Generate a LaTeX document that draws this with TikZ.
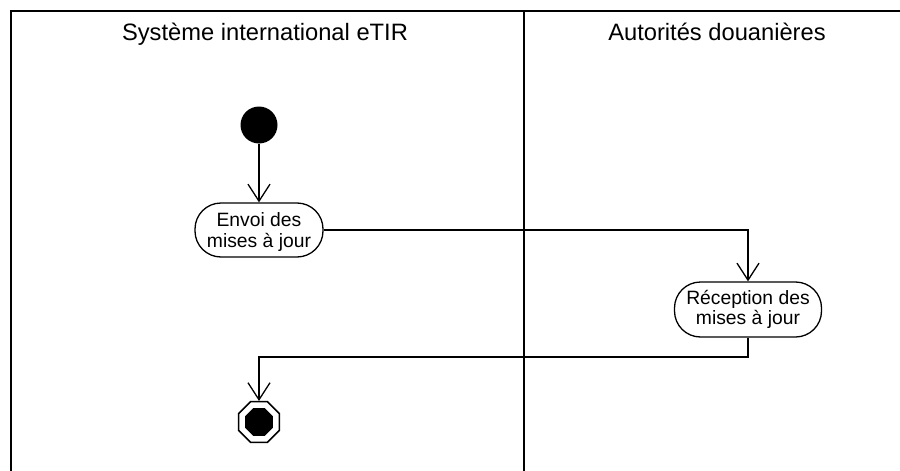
\documentclass[tikz,border=0pt]{standalone}
\usepackage{fontspec}
\setmainfont{Liberation Sans}
\usetikzlibrary{arrows.meta,shapes.geometric}
\begin{document}
\begin{tikzpicture}[x=1pt,y=-1pt,
  lane/.style={line width=2pt,line cap=rect},
  header/.style={anchor=base,inner sep=0pt,font=\fontsize{23.7}{28}\selectfont},
  activity/.style={draw,line width=1.3pt,rounded corners=26pt,align=center,
    inner sep=0pt,font=\fontsize{19.3}{20.5}\selectfont},
  flow/.style={line width=1.3pt,-{Straight Barb[length=17pt,width=22pt,line width=1.3pt]}},
  startnode/.style={circle,fill=black,minimum size=37pt,inner sep=0pt},
  endouter/.style={regular polygon,regular polygon sides=8,draw,line width=1.5pt,
    minimum size=44pt,inner sep=0pt},
  endinner/.style={regular polygon,regular polygon sides=8,fill=black,
    minimum size=30pt,inner sep=0pt}
]
\useasboundingbox (0,0) rectangle (900,471);
\fill[white] (0,0) rectangle (900,471);
\begin{scope}
\clip (0,0) rectangle (900,471);
\draw[lane] (905,11) -- (10.5,11) -- (10.5,480);
\draw[lane] (523.5,11) -- (523.5,480);
\end{scope}

\node[header] (h1) at (265,40) {Système international eTIR};
\node[header] (h2) at (717,40) {Autorités douanières};

\node[startnode] (start) at (259,125) {};
\node[activity,minimum width=128pt,minimum height=54pt] (envoi) at (259,230)
  {\raisebox{-3pt}[\height][\depth]{\begin{tabular}{@{}c@{}}Envoi des\\mises à jour\end{tabular}}};
\node[activity,minimum width=147pt,minimum height=55pt] (recep) at (748,309.5)
  {Réception des\\mises à jour};
\node[endouter] (fin) at (259,422) {};
\node[endinner] (fincore) at (fin.center) {};

\coordinate (bend) at (748,357);

\draw[flow] (start) -- (envoi);
\draw[flow] (envoi.east) -- (envoi.east -| recep.north) -- (recep.north);
\draw[flow] (recep.south) -- (recep.south |- bend) -- (bend -| fin.north) -- (fin.north);
\end{tikzpicture}
\end{document}
